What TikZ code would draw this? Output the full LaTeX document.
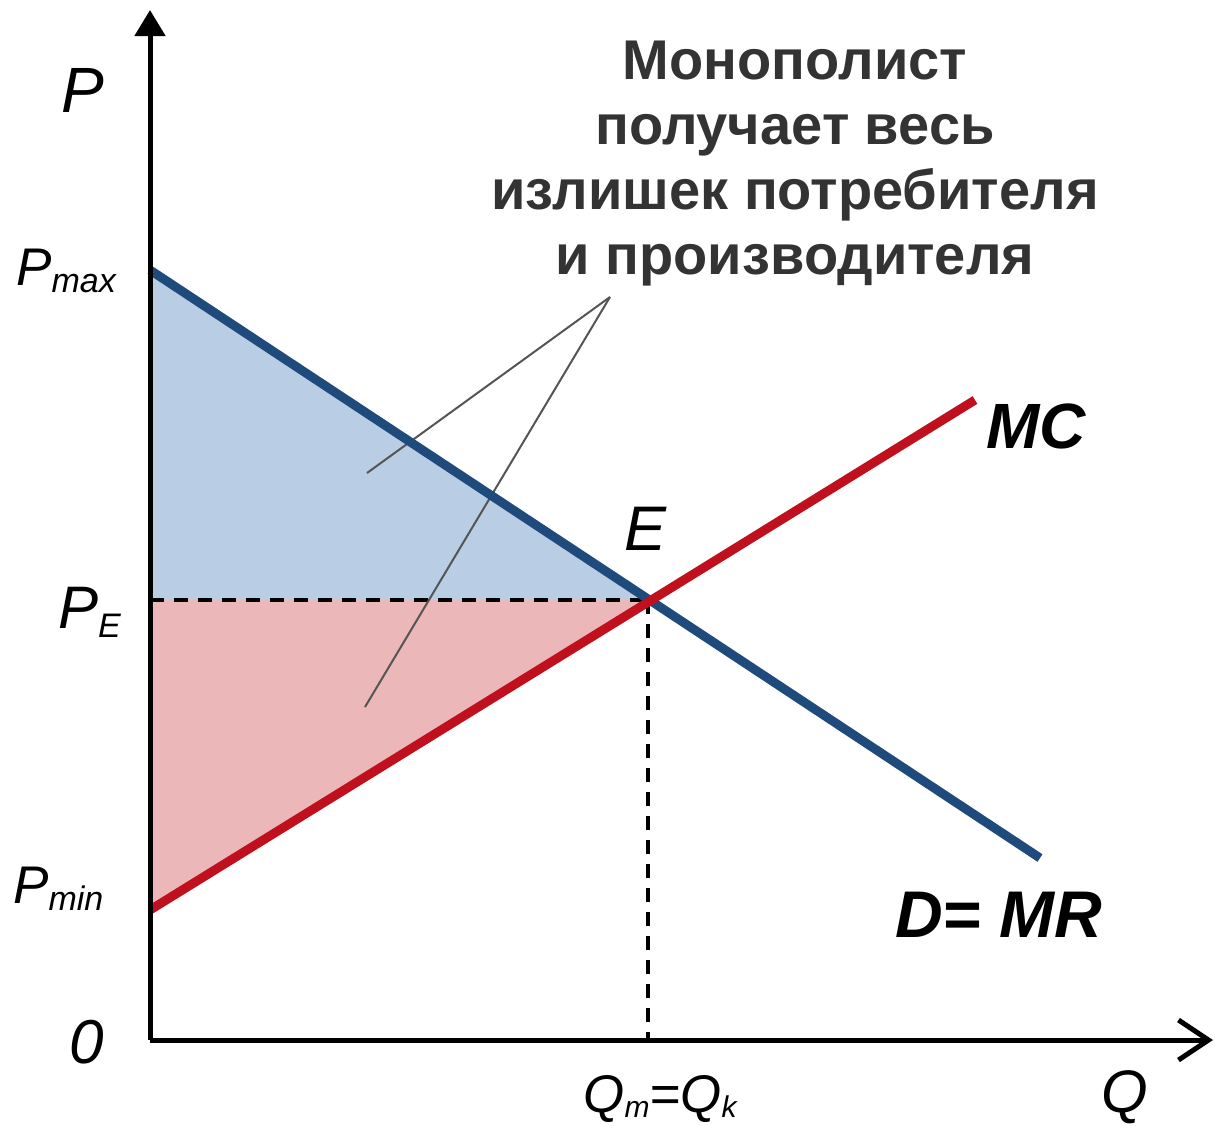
\documentclass[tikz,border=0pt]{standalone}
\usepackage{fontspec}
\setmainfont{Liberation Sans}
\usetikzlibrary{arrows.meta}
\definecolor{dblue}{HTML}{1F4A7C}
\definecolor{lblue}{HTML}{B9CDE5}
\definecolor{dred}{HTML}{C0101E}
\definecolor{lred}{HTML}{EBB7B8}
\definecolor{txtgray}{HTML}{333333}
\definecolor{ptrgray}{HTML}{555555}
\tikzset{
  axisline/.style={line width=5pt, black},
  demand/.style={line width=9pt, dblue},
  mcline/.style={line width=9pt, dred},
  guide/.style={line width=3.5pt, black, dash pattern=on 14pt off 10pt},
  pointer/.style={line width=2pt, ptrgray},
  lab/.style={inner sep=0pt, font=\itshape},
}
\begin{document}
\begin{tikzpicture}[x=1pt,y=-1pt]
\useasboundingbox (0,0) rectangle (1215,1125);
\coordinate (O) at (150,1040);
\coordinate (Ytop) at (150,10);
\coordinate (Xend) at (1213,1040);
\coordinate (Pmax) at (150,270);
\coordinate (Dend) at (1040,858);
\coordinate (Pmin) at (150,910);
\coordinate (MCend) at (975,400);
\coordinate (E) at (648,600);
\coordinate (PE) at (150,600);
\coordinate (QE) at (648,1040);
% areas
\fill[lblue] (Pmax) -- (E) -- (PE) -- cycle;
\fill[lred] (PE) -- (E) -- (Pmin) -- cycle;
% guides
\draw[guide] (PE) -- (E);
\draw[guide] (E) -- (QE);
% pointers
\coordinate (apex) at (610,297);
\coordinate (ptrA) at (367,473);
\coordinate (ptrB) at (365,707);
\draw[pointer] (apex) -- (ptrA);
\draw[pointer] (apex) -- (ptrB);
% curves
\draw[demand] (Pmax) -- (Dend);
\draw[mcline] (Pmin) -- (MCend);
% axes
\draw[axisline, -{Triangle[length=26pt,width=30pt]}] (O) -- (Ytop);
\draw[axisline, -{Straight Barb[length=30pt,width=40pt]}] (O) -- (Xend);
% labels
\node[lab, font=\fontsize{64}{64}\selectfont\itshape] (lP) at (83,90) {P};
\node[lab, anchor=base west] (lPmax) at (16,285) {\fontsize{53}{53}\selectfont\itshape P\raisebox{-0.25ex}{\fontsize{34}{34}\selectfont max}};
\node[lab, anchor=base west] (lPE) at (58,628) {\fontsize{60}{60}\selectfont\itshape P\raisebox{-0.3ex}{\fontsize{34}{34}\selectfont E}};
\node[lab, anchor=base west] (lPmin) at (13,903) {\fontsize{53}{53}\selectfont\itshape P\raisebox{-0.25ex}{\fontsize{34}{34}\selectfont min}};
\node[lab, anchor=base] (l0) at (87,1063) {\fontsize{62}{62}\selectfont\itshape 0};
\node[lab, anchor=base] (lQ) at (1125,1112) {\fontsize{60}{60}\selectfont Q};
\node[lab, anchor=base] (lQm) at (660,1112) {\fontsize{53}{53}\selectfont Q\raisebox{-0.2ex}{\fontsize{30}{30}\selectfont\itshape m}=Q\raisebox{-0.2ex}{\fontsize{30}{30}\selectfont k}};
\node[lab, anchor=base] (lE) at (646,550) {\fontsize{63}{63}\selectfont\itshape E};
\node[lab, anchor=base west] (lMC) at (986,448) {\fontsize{64}{64}\selectfont\bfseries\itshape MC};
\node[lab, anchor=base west] (lD) at (895,937) {\fontsize{66}{66}\selectfont\bfseries\itshape D= MR};
\node[inner sep=0pt, align=center, text=txtgray, font=\fontsize{56}{65}\selectfont\bfseries] (note) at (795,164)
  {Монополист\\получает весь\\излишек потребителя\\и производителя};
\end{tikzpicture}
\end{document}
